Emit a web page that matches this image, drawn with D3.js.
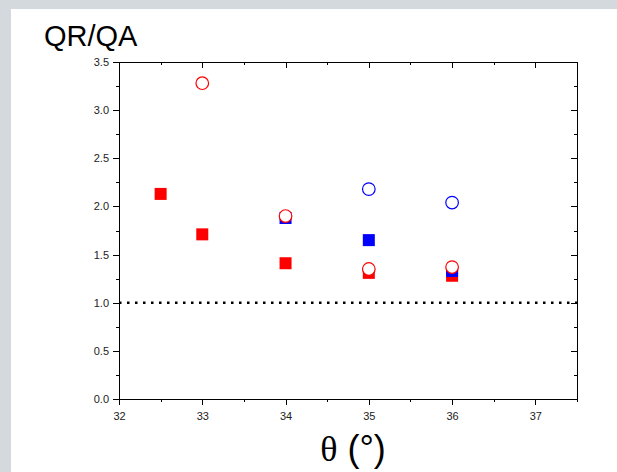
<!DOCTYPE html>
<meta charset="utf-8">
<head>
    <script src="https://d3js.org/d3.v7.min.js"></script>
    <style>
        body { margin: 0; background: #d3d9dc; }
        svg { display: block; }
        .axis text { font: 11px Arial, "Liberation Sans", sans-serif; fill: #222; }
        .axis path, .axis line { stroke: #000; shape-rendering: crispEdges; }
    </style>
</head>
<body>
<div id="chart"></div>
<script>
    // values
    var redSquaresX = [32.5, 33, 34, 35, 36];
    var redSquaresY = [2.13, 1.71, 1.41, 1.31, 1.28];
    var blueSquaresX = [34, 35, 36];
    var blueSquaresY = [1.88, 1.65, 1.33];
    var blueCirclesX = [35, 36];
    var blueCirclesY = [2.18, 2.04];
    var redCirclesX = [33, 34, 35, 36];
    var redCirclesY = [3.28, 1.90, 1.35, 1.37];
    var xTicks = [32, 33, 34, 35, 36, 37];
    var yTicks = [0.0, 0.5, 1.0, 1.5, 2.0, 2.5, 3.0, 3.5];
    var refLine = 1.0;

    var W = 617, H = 472;
    var margin = {top: 62, right: 40, bottom: 73, left: 119},
        width = W - margin.left - margin.right,
        height = H - margin.top - margin.bottom;

    var svg = d3.select("#chart").append("svg")
        .attr("width", W)
        .attr("height", H);

    // white panel over the gray page
    svg.append("rect")
        .attr("x", 11).attr("y", 9)
        .attr("width", W - 11).attr("height", H - 9)
        .attr("fill", "#fff");

    var g = svg.append("g")
        .attr("transform", "translate(" + margin.left + "," + margin.top + ")");

    var x = d3.scaleLinear().domain([32, 37.5]).range([0, width]);
    var y = d3.scaleLinear().domain([0, 3.5]).range([height, 0]);

    var xMinor = d3.range(32.5, 37.6, 1);
    var yMinor = d3.range(0.25, 3.5, 0.5);

    // major axes
    g.append("g").attr("class", "axis")
        .attr("transform", "translate(0," + height + ")")
        .call(d3.axisBottom(x).tickValues(xTicks).tickFormat(d3.format("d")).tickSize(6).tickSizeOuter(0))
        .selectAll("text").attr("dy", "1.1em");
    g.append("g").attr("class", "axis")
        .call(d3.axisLeft(y).tickValues(yTicks).tickFormat(d3.format(".1f")).tickSize(6).tickSizeOuter(0))
        .selectAll("text").attr("dx", "-1px");
    g.append("g").attr("class", "axis")
        .call(d3.axisTop(x).tickValues(xTicks.concat([37.5])).tickSize(-6).tickSizeOuter(0).tickFormat(""));
    g.append("g").attr("class", "axis")
        .attr("transform", "translate(" + width + ",0)")
        .call(d3.axisRight(y).tickValues(yTicks).tickSize(-6).tickSizeOuter(0).tickFormat(""));

    // minor ticks
    g.append("g").attr("class", "axis")
        .attr("transform", "translate(0," + height + ")")
        .call(d3.axisBottom(x).tickValues(xMinor).tickSize(3).tickFormat(""))
        .select(".domain").remove();
    g.append("g").attr("class", "axis")
        .call(d3.axisLeft(y).tickValues(yMinor).tickSize(3).tickFormat(""))
        .select(".domain").remove();
    g.append("g").attr("class", "axis")
        .call(d3.axisTop(x).tickValues(xMinor).tickSize(-3).tickFormat(""))
        .select(".domain").remove();
    g.append("g").attr("class", "axis")
        .attr("transform", "translate(" + width + ",0)")
        .call(d3.axisRight(y).tickValues(yMinor).tickSize(-3).tickFormat(""))
        .select(".domain").remove();

    // dotted reference line at 1
    g.append("line")
        .attr("x1", x(32)).attr("x2", x(37.5))
        .attr("y1", y(refLine)).attr("y2", y(refLine))
        .attr("stroke", "#000")
        .attr("stroke-width", 2.5)
        .attr("stroke-dasharray", "2.5,5.5");

    var sq = 12;
    function squares(xs, ys, color) {
        g.append("g").selectAll("rect")
            .data(xs.map(function(d, i) { return [d, ys[i]]; }))
            .enter().append("rect")
            .attr("x", function(d) { return x(d[0]) - sq / 2; })
            .attr("y", function(d) { return y(d[1]) - sq / 2; })
            .attr("width", sq).attr("height", sq)
            .attr("fill", color);
    }
    function circles(xs, ys, color) {
        g.append("g").selectAll("circle")
            .data(xs.map(function(d, i) { return [d, ys[i]]; }))
            .enter().append("circle")
            .attr("cx", function(d) { return x(d[0]); })
            .attr("cy", function(d) { return y(d[1]); })
            .attr("r", 6.3)
            .attr("fill", "#fff")
            .attr("stroke", color)
            .attr("stroke-width", 1.2);
    }

    squares(redSquaresX, redSquaresY, "#ff0000");
    squares(blueSquaresX, blueSquaresY, "#0000ff");
    circles(blueCirclesX, blueCirclesY, "#0000ff");
    circles(redCirclesX, redCirclesY, "#ff0000");

    // titles
    svg.append("text")
        .attr("x", 44).attr("y", 46)
        .style("font", "29px Arial, 'Liberation Sans', sans-serif")
        .attr("fill", "#000")
        .text("QR/QA");

    var xl = svg.append("text")
        .attr("x", margin.left + width / 2 + 5).attr("y", 461)
        .attr("text-anchor", "middle")
        .attr("fill", "#000")
        .style("font", "36px Arial, 'Liberation Sans', sans-serif");
    xl.append("tspan").style("font-family", "'Liberation Serif', 'DejaVu Serif', serif").text("θ");
    xl.append("tspan").text(" (°)");
</script>
</body>
